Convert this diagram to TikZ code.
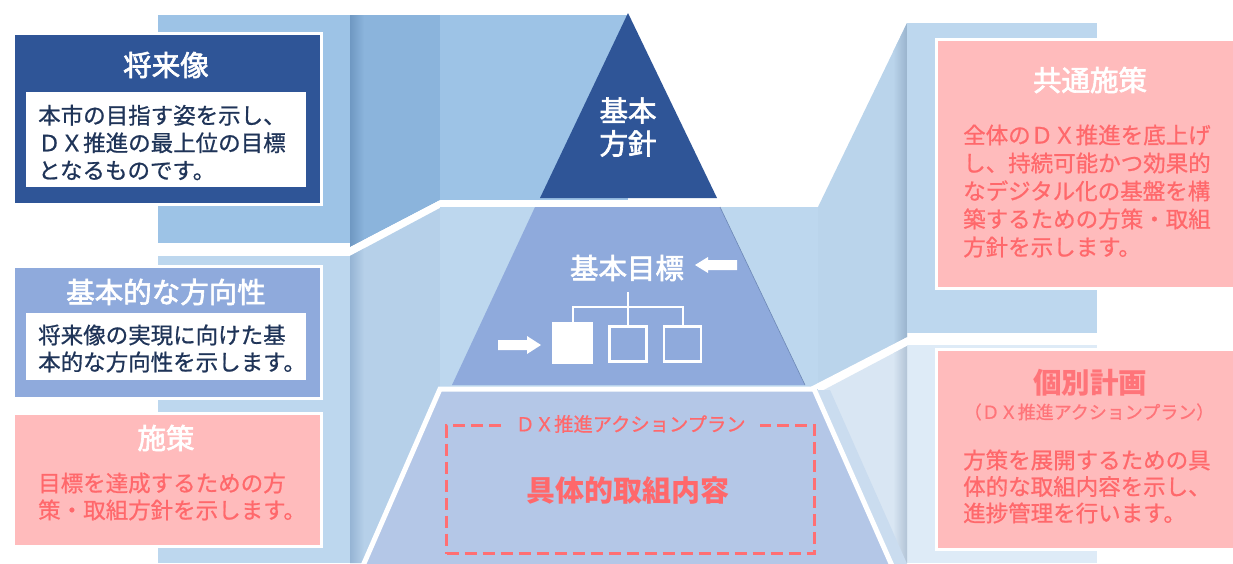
\documentclass[tikz,border=0pt]{standalone}
\usepackage{fontspec}
\setmainfont{Noto Sans CJK JP}
\newfontfamily\medfont[FakeBold=2.2]{Noto Sans CJK JP}
\newfontfamily\semifont[FakeBold=0.8]{Noto Sans CJK JP}
\definecolor{dkblue}{HTML}{2F5597}
\definecolor{midblue}{HTML}{8FAADC}
\definecolor{trapc}{HTML}{B4C7E7}
\definecolor{panelA}{HTML}{9DC3E6}
\definecolor{panelB}{HTML}{BDD7EE}
\definecolor{panelC}{HTML}{DEEBF7}
\definecolor{pinkbox}{HTML}{FFBBBC}
\definecolor{redtxt}{HTML}{FF686B}
\definecolor{redttl}{HTML}{FF7479}
\definecolor{dashred}{HTML}{FF6F73}
\definecolor{navytxt}{HTML}{1F3458}
\definecolor{wallA}{HTML}{8BB4DC}
\definecolor{wallAd}{HTML}{6D96C0}
\definecolor{wallB}{HTML}{B6D0E9}
\definecolor{wallBd}{HTML}{93B2D2}
\definecolor{wallR}{HTML}{BAD4EB}
\definecolor{wallRd}{HTML}{97B1CB}
\definecolor{wallC}{HTML}{D9E6F3}
\definecolor{wallCd}{HTML}{AFC1D4}
\definecolor{stripc}{HTML}{CADCEF}
\tikzset{
  panel/.style={draw=white, line width=2.5pt, anchor=north west, inner sep=0pt},
  inbox/.style={fill=white, anchor=north west, inner sep=0pt},
  ttl/.style={font=\medfont\fontsize{28.5}{33}\selectfont, text=white, inner sep=0pt, align=center},
  body/.style={font=\semifont\fontsize{22.5}{27.5}\selectfont, align=left, inner sep=0pt, anchor=west},
  orgbox/.style={draw=white, line width=2.2pt, inner sep=0pt},
  orgline/.style={draw=white, line width=2pt},
}
\begin{document}
\begin{tikzpicture}[x=1pt,y=-1pt]
\useasboundingbox (0,0) rectangle (1233,563);
\clip (0,0) rectangle (1233,563);
\fill[white] (0,0) rectangle (1233,563);

% ---- left top wall ----
\fill[panelA] (158,15) rectangle (350,243);
\begin{scope}
  \clip (350,15) -- (440,15) -- (440,200) -- (350,247) -- cycle;
  \fill[wallA] (340,10) rectangle (450,260);
  \shade[left color=wallAd, right color=wallA] (349,10) rectangle (364,260);
\end{scope}
\fill[panelA] (440,15) rectangle (628,200);

% ---- left lower wall ----
\fill[panelB] (158,256) rectangle (350,563);
\begin{scope}
  \clip (350,256) -- (440,208) -- (440,563) -- (350,563) -- cycle;
  \fill[wallB] (340,200) rectangle (450,570);
  \shade[left color=wallBd, right color=wallB] (349,200) rectangle (364,570);
\end{scope}

% ---- middle back ----
\fill[panelB] (440,207) rectangle (818,390);

% ---- right top wall ----
\begin{scope}
  \clip (818,207) -- (907,23) -- (907,337) -- (818,386) -- cycle;
  \fill[wallR] (810,15) rectangle (915,400);
  \shade[left color=wallR, right color=wallRd] (893,15) rectangle (908,400);
\end{scope}
\fill[panelB] (907,23) rectangle (1097,333);

% ---- right lower wall ----
\fill[panelC] (907,345) rectangle (1097,563);
\begin{scope}
  \clip (818,393) -- (907,346) -- (907,563) -- (818,563) -- cycle;
  \fill[wallC] (810,340) rectangle (915,570);
  \shade[left color=wallC, right color=wallCd] (893,340) rectangle (908,570);
\end{scope}
\fill[stripc] (812,390) -- (830,390) -- (908,566) -- (890,566) -- cycle;

% ---- white separators ----
\draw[white, line width=5pt] (348,251) -- (440,203) -- (737,203);
\draw[white, line width=5pt] (812,389) -- (907,340) -- (1097,340);

% ---- pyramid ----
\filldraw[fill=trapc, draw=white, line width=5pt, line join=miter]
  (440,389) -- (814,389) -- (893,568) -- (362,568) -- cycle;
\fill[midblue] (535,207) -- (720,207) -- (805,385) -- (452,385) -- cycle;
\draw[dkblue!70, line width=0.6pt] (720,207) -- (805,385);
\fill[dkblue] (628,13) -- (717,198) -- (540,198) -- cycle;

\node[ttl] (houshin) at (628,127) {基本\\方針};

% ---- basic goals ----
\node[ttl, anchor=center] (goal) at (627,268) {基本目標};
\fill[white] (695,265) -- (708,257) -- (708,260) -- (737,260) -- (737,270) -- (708,270) -- (708,273) -- cycle;
\fill[white] (498,340) -- (527,340) -- (527,336) -- (541,345) -- (527,354) -- (527,350) -- (498,350) -- cycle;

\node[orgbox, fill=white, minimum width=39pt, minimum height=40pt] (b1) at (572.5,343) {};
\node[orgbox, minimum width=37pt, minimum height=35pt] (b2) at (628,344) {};
\node[orgbox, minimum width=37pt, minimum height=35pt] (b3) at (682.5,344) {};
\coordinate (orgtop) at (628,292);
\coordinate (orgbar) at (628,307);
\draw[orgline] (orgtop) -- (b2.north);
\draw[orgline] (b1.north) |- (orgbar) -| (b3.north);

% ---- action plan ----
\node[draw=dashred, line width=3.2pt, dash pattern=on 12pt off 6pt, anchor=north west,
      minimum width=368pt, minimum height=128pt, inner sep=0pt] (dashbox) at (445,424) {};
\node[fill=trapc, inner xsep=14pt, inner ysep=2pt, text=redtxt,
      font=\semifont\fontsize{19.3}{22}\selectfont] (aplabel) at (dashbox.north) {ＤＸ推進アクションプラン};
\node[text=redtxt, font=\fontsize{29}{32}\selectfont\bfseries, inner sep=0pt] (concrete) at (628,490) {具体的取組内容};

% ---- left boxes ----
\node[panel, fill=dkblue, minimum width=308pt, minimum height=171pt] (futbox) at (12,32) {};
\node[ttl] (futttl) at (166,65) {将来像};
\node[inbox, minimum width=280pt, minimum height=95pt] (futin) at (26,92) {};
\node[body, text=navytxt] (futtxt) at (38,142.5) {本市の目指す姿を示し、\\ＤＸ推進の最上位の目標\\となるものです。};

\node[panel, fill=midblue, minimum width=308pt, minimum height=132pt] (dirbox) at (12,265) {};
\node[ttl] (dirttl) at (166,292) {基本的な方向性};
\node[inbox, minimum width=280pt, minimum height=67pt] (dirin) at (26,313) {};
\node[body, text=navytxt, font=\semifont\fontsize{22.5}{27}\selectfont] (dirtxt) at (38,348.5) {将来像の実現に向けた基\\本的な方向性を示します。};

\node[panel, fill=pinkbox, minimum width=308pt, minimum height=133pt] (polbox) at (12,412) {};
\node[ttl] (polttl) at (166,438) {施策};
\node[body, text=redtxt, font=\semifont\fontsize{22.5}{27}\selectfont] (poltxt) at (38,496.5) {目標を達成するための方\\策・取組方針を示します。};

% ---- right boxes ----
\node[panel, fill=pinkbox, minimum width=320pt, minimum height=249pt] (combox) at (935,38) {};
\node[ttl] (comttl) at (1090,80) {共通施策};
\node[body, text=redtxt, font=\semifont\fontsize{22.5}{28}\selectfont] (comtxt) at (963,191) {全体のＤＸ推進を底上げ\\し、持続可能かつ効果的\\なデジタル化の基盤を構\\築するための方策・取組\\方針を示します。};

\node[panel, fill=pinkbox, minimum width=320pt, minimum height=200pt] (indbox) at (935,348) {};
\node[ttl, text=redttl, font=\fontsize{28.5}{33}\selectfont\bfseries] (indttl) at (1090,383) {個別計画};
\node[text=redttl, font=\semifont\fontsize{18}{20}\selectfont, inner sep=0pt] (indsub) at (1089,412) {（ＤＸ推進アクションプラン）};
\node[body, text=redtxt, font=\semifont\fontsize{22.5}{26.5}\selectfont] (indtxt) at (963,486.5) {方策を展開するための具\\体的な取組内容を示し、\\進捗管理を行います。};
\end{tikzpicture}
\end{document}
